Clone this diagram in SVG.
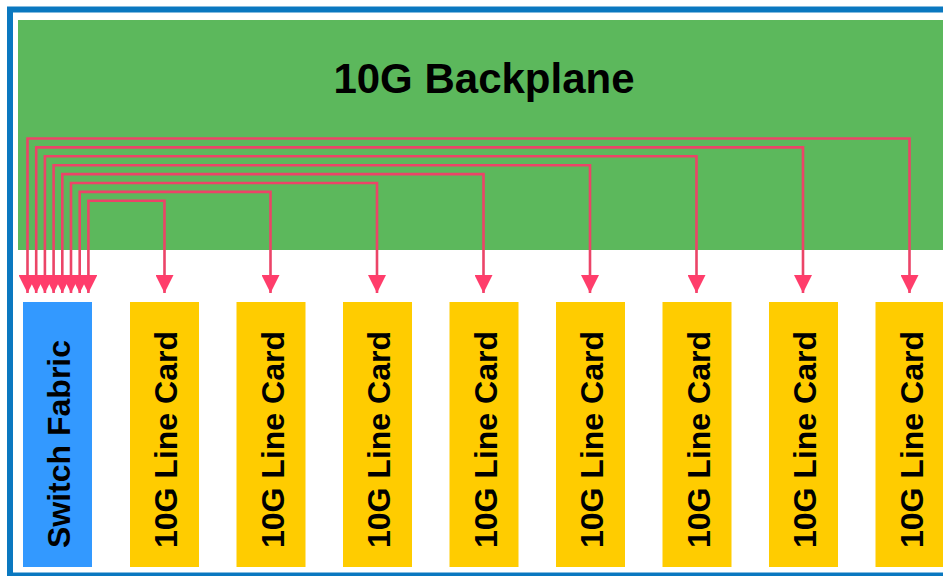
<svg xmlns="http://www.w3.org/2000/svg" width="943" height="576" viewBox="0 0 943 576">
  <defs>
    <style>
      .lbl { font-family: "Liberation Sans", Arial, sans-serif; font-weight: bold; font-size: 32px; fill: #000; }
      .title { font-family: "Liberation Sans", Arial, sans-serif; font-weight: bold; font-size: 42px; fill: #000; }
      .card { fill: #ffcc00; }
      .fabric { fill: #3399ff; }
      .link { fill: none; stroke: #ec4468; stroke-width: 2.6; marker-start: url(#ah); marker-end: url(#ah); }
    </style>
    <marker id="ah" markerUnits="userSpaceOnUse" markerWidth="19" markerHeight="18" refX="18" refY="9" orient="auto-start-reverse">
      <path d="M0,0 L18,9 L0,18 z" fill="#ff3d6b"/>
    </marker>
  </defs>
  <rect x="0" y="0" width="943" height="576" fill="#ffffff"/>
  <rect id="frame" x="10" y="9.5" width="950" height="566" fill="#ffffff" stroke="#0a78c0" stroke-width="6"/>
  <g id="backplane">
    <rect x="18" y="20" width="940" height="230" fill="#5cb85c"/>
    <text class="title" x="484" y="93" text-anchor="middle">10G Backplane</text>
  </g>
  <g id="switch-fabric">
    <rect class="fabric" x="23" y="302" width="69" height="265"/>
    <text class="lbl" transform="translate(70,548) rotate(-90)">Switch Fabric</text>
  </g>
  <g id="card1">
    <rect class="card" x="130" y="302" width="69" height="265"/>
    <text class="lbl" transform="translate(177,548) rotate(-90)">10G Line Card</text>
  </g>
  <g id="card2">
    <rect class="card" x="236.5" y="302" width="69" height="265"/>
    <text class="lbl" transform="translate(283.5,548) rotate(-90)">10G Line Card</text>
  </g>
  <g id="card3">
    <rect class="card" x="343" y="302" width="69" height="265"/>
    <text class="lbl" transform="translate(390,548) rotate(-90)">10G Line Card</text>
  </g>
  <g id="card4">
    <rect class="card" x="449.5" y="302" width="69" height="265"/>
    <text class="lbl" transform="translate(496.5,548) rotate(-90)">10G Line Card</text>
  </g>
  <g id="card5">
    <rect class="card" x="556" y="302" width="69" height="265"/>
    <text class="lbl" transform="translate(603,548) rotate(-90)">10G Line Card</text>
  </g>
  <g id="card6">
    <rect class="card" x="662.5" y="302" width="69" height="265"/>
    <text class="lbl" transform="translate(709.5,548) rotate(-90)">10G Line Card</text>
  </g>
  <g id="card7">
    <rect class="card" x="769" y="302" width="69" height="265"/>
    <text class="lbl" transform="translate(816,548) rotate(-90)">10G Line Card</text>
  </g>
  <g id="card8">
    <rect class="card" x="875.5" y="302" width="69" height="265"/>
    <text class="lbl" transform="translate(922.5,548) rotate(-90)">10G Line Card</text>
  </g>
  <g id="connectors">
    <path class="link" d="M27.5,293 V138.5 H909.5 V293"/>
    <path class="link" d="M36.2,293 V147.4 H803 V293"/>
    <path class="link" d="M44.9,293 V156.3 H696.5 V293"/>
    <path class="link" d="M53.6,293 V165.2 H590 V293"/>
    <path class="link" d="M62.3,293 V174.1 H483.5 V293"/>
    <path class="link" d="M71,293 V183 H377 V293"/>
    <path class="link" d="M79.7,293 V191.9 H270.5 V293"/>
    <path class="link" d="M88.4,293 V200.8 H164.5 V293"/>
  </g>
</svg>
